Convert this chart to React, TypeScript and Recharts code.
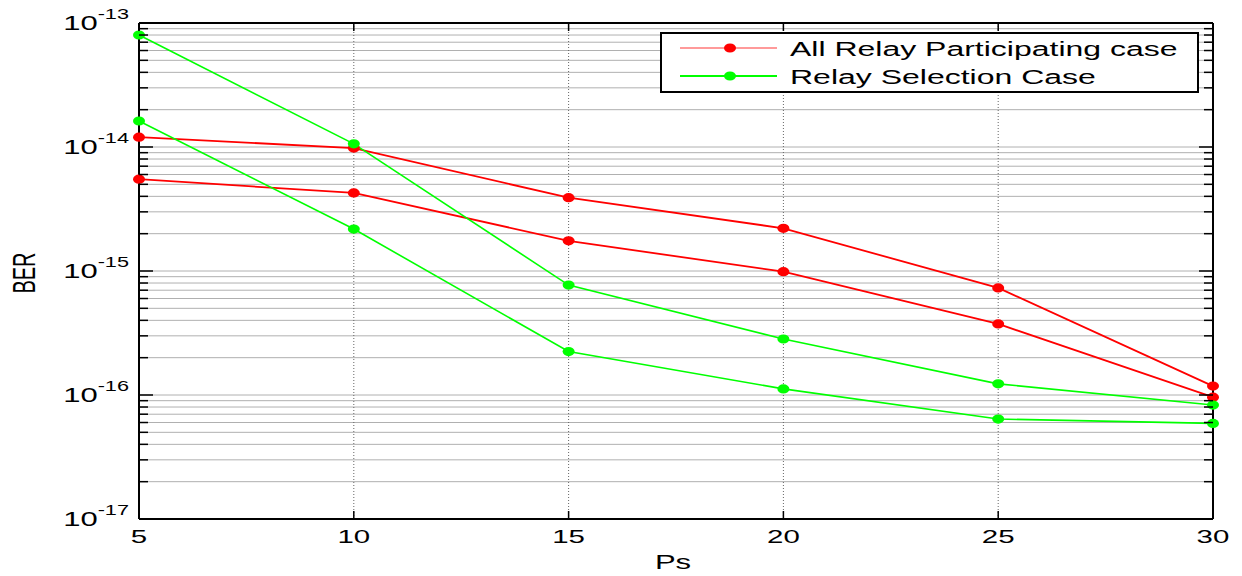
import { LineChart, Line, XAxis, YAxis, CartesianGrid, Legend } from 'recharts';

const PS = [5, 10, 15, 20, 25, 30];
const ALL_RELAY_A = [1.2e-14, 9.8e-15, 3.9e-15, 2.21e-15, 7.3e-16, 1.18e-16];
const ALL_RELAY_B = [5.5e-15, 4.26e-15, 1.75e-15, 9.87e-16, 3.74e-16, 9.6e-17];
const SELECTION_A = [8.0e-14, 1.06e-14, 7.7e-16, 2.83e-16, 1.23e-16, 8.3e-17];
const SELECTION_B = [1.62e-14, 2.18e-15, 2.24e-16, 1.12e-16, 6.4e-17, 5.9e-17];

const X_TICKS = [5, 10, 15, 20, 25, 30];
const DECADES = [-17, -16, -15, -14, -13];
const MINOR = [1, 2, 3, 4, 5, 6, 7, 8, 9];

const RED = '#ff0000';
const GREEN = '#00ff00';
const FONT = '"Liberation Sans", Arial, sans-serif';
const SX = 1.55;

const Y_TICKS: number[] = [];
DECADES.forEach((d, i) => {
  if (i === DECADES.length - 1) {
    Y_TICKS.push(Math.pow(10, d));
    return;
  }
  MINOR.forEach(m => Y_TICKS.push(m * Math.pow(10, d)));
});

const data = PS.map((ps, i) => ({
  ps,
  allA: ALL_RELAY_A[i],
  allB: ALL_RELAY_B[i],
  selA: SELECTION_A[i],
  selB: SELECTION_B[i],
}));

const isDecade = (v: number) => {
  const l = Math.log10(v);
  return Math.abs(l - Math.round(l)) < 1e-6;
};

function LeftTick(props: any) {
  const { x, y, payload } = props;
  const v = payload.value;
  const major = isDecade(v);
  return (
    <g>
      <line x1={x} x2={x + (major ? 14 : 9)} y1={y} y2={y} stroke="#000" strokeWidth={1.5} />
      {major && (
        <g transform={`translate(${x - 10},${y + 7}) scale(${SX},1)`}>
          <text x={0} y={0} textAnchor="end" fontFamily={FONT} fill="#000">
            <tspan fontSize={20}>10</tspan>
            <tspan fontSize={14} dy={-11}>{String(Math.round(Math.log10(v)))}</tspan>
          </text>
        </g>
      )}
    </g>
  );
}

function RightTick(props: any) {
  const { x, y, payload } = props;
  const major = isDecade(payload.value);
  return <line x1={x} x2={x - (major ? 14 : 9)} y1={y} y2={y} stroke="#000" strokeWidth={1.5} />;
}

function BottomTick(props: any) {
  const { x, y, payload } = props;
  return (
    <g>
      <line x1={x} x2={x} y1={y} y2={y - 8} stroke="#000" strokeWidth={1.5} />
      <g transform={`translate(${x},${y + 24}) scale(${SX},1)`}>
        <text x={0} y={0} textAnchor="middle" fontFamily={FONT} fontSize={19} fill="#000">
          {payload.value}
        </text>
      </g>
    </g>
  );
}

function TopTick(props: any) {
  const { x, y } = props;
  return <line x1={x} x2={x} y1={y} y2={y + 8} stroke="#000" strokeWidth={1.5} />;
}

const makeDot = (color: string) => (p: any) => (
  <ellipse key={`${color}-${p.index}-${p.dataKey}`} cx={p.cx} cy={p.cy} rx={6} ry={4.6} fill={color} />
);

function LegendBox() {
  const rows = [
    { label: 'All Relay Participating case', line: '#ff9a9a', dot: RED },
    { label: 'Relay Selection Case', line: GREEN, dot: GREEN },
  ];
  return (
    <svg width={540} height={62} style={{ display: 'block' }}>
      <rect x={1} y={1} width={537} height={59} fill="#fff" stroke="#000" strokeWidth={2} />
      {rows.map((r, i) => {
        const cy = 16 + i * 28;
        return (
          <g key={r.label}>
            <line x1={20} x2={117} y1={cy} y2={cy} stroke={r.line} strokeWidth={2} />
            <ellipse cx={70} cy={cy} rx={6} ry={4.6} fill={r.dot} />
            <g transform={`translate(130,${cy + 8}) scale(1.6,1)`}>
              <text x={0} y={0} fontFamily={FONT} fontSize={20} fill="#000">{r.label}</text>
            </g>
          </g>
        );
      })}
    </svg>
  );
}

export default function App() {
  return (
    <div style={{ position: 'absolute', left: 0, top: 0, width: 1242, height: 576, background: '#fff' }}>
      <LineChart width={1242} height={576} data={data} margin={{ top: 0, right: 0, bottom: 0, left: 0 }}>
        <CartesianGrid vertical={false} stroke="#b0b0b0" strokeWidth={1} />
        <CartesianGrid horizontal={false} stroke="#666" strokeDasharray="1 2" strokeWidth={1} />
        <XAxis
          dataKey="ps"
          type="number"
          domain={[5, 30]}
          ticks={X_TICKS}
          height={57}
          tickSize={0}
          tickMargin={0}
          tick={<BottomTick />}
          axisLine={{ stroke: '#000', strokeWidth: 2 }}
          tickLine={false}
          label={{ value: '', position: 'insideBottom' }}
        />
        <XAxis
          xAxisId="top"
          orientation="top"
          dataKey="ps"
          type="number"
          domain={[5, 30]}
          ticks={X_TICKS}
          height={23}
          tickSize={0}
          tickMargin={0}
          tick={<TopTick />}
          axisLine={{ stroke: '#000', strokeWidth: 2 }}
          tickLine={false}
        />
        <YAxis
          scale="log"
          type="number"
          domain={[1e-17, 1e-13]}
          allowDataOverflow
          ticks={Y_TICKS}
          interval={0}
          width={139}
          tickSize={0}
          tickMargin={0}
          tick={<LeftTick />}
          axisLine={{ stroke: '#000', strokeWidth: 2 }}
          tickLine={false}
        />
        <YAxis
          yAxisId="right"
          orientation="right"
          scale="log"
          type="number"
          domain={[1e-17, 1e-13]}
          allowDataOverflow
          ticks={Y_TICKS}
          interval={0}
          width={29}
          tickSize={0}
          tickMargin={0}
          tick={<RightTick />}
          axisLine={{ stroke: '#000', strokeWidth: 2 }}
          tickLine={false}
        />
        <Legend
          layout="horizontal"
          verticalAlign="middle"
          align="center"
          content={() => <LegendBox />}
          wrapperStyle={{ position: 'absolute', left: 660, top: 32, width: 540, height: 62 }}
        />
        <Line dataKey="allA" stroke={RED} strokeWidth={1.8} dot={makeDot(RED)} isAnimationActive={false} legendType="none" />
        <Line dataKey="allB" stroke={RED} strokeWidth={1.8} dot={makeDot(RED)} isAnimationActive={false} legendType="none" />
        <Line dataKey="selA" stroke={GREEN} strokeWidth={1.6} dot={makeDot(GREEN)} isAnimationActive={false} legendType="none" />
        <Line dataKey="selB" stroke={GREEN} strokeWidth={1.6} dot={makeDot(GREEN)} isAnimationActive={false} legendType="none" />
      </LineChart>
      <div style={{ position: 'absolute', left: 673, top: 562, transform: `translate(-50%,-50%) scale(${SX},1)`, fontFamily: FONT, fontSize: 20, color: '#000' }}>
        Ps
      </div>
      <div style={{ position: 'absolute', left: 25, top: 273, transform: `translate(-50%,-50%) scale(${SX},1) rotate(-90deg)`, fontFamily: FONT, fontSize: 20, color: '#000' }}>
        BER
      </div>
    </div>
  );
}
